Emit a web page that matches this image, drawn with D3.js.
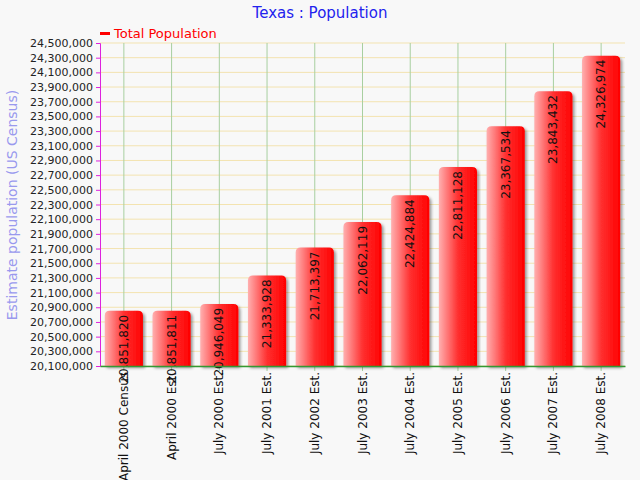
<!DOCTYPE html>
<html><head><meta charset="utf-8">
<script src="https://cdn.jsdelivr.net/npm/d3@7"></script>
<style>body{margin:0;background:#f8f8f8}text{font-family:Verdana,"DejaVu Sans",sans-serif}</style>
</head><body><svg id="c" width="640" height="480"></svg>
<script>
var categories = ["April 2000 Census","April 2000 Est.","July 2000 Est.","July 2001 Est.","July 2002 Est.","July 2003 Est.","July 2004 Est.","July 2005 Est.","July 2006 Est.","July 2007 Est.","July 2008 Est."];
var population = [20851820,20851811,20946049,21333928,21713397,22062119,22424884,22811128,23367534,23843432,24326974];
var yTicks = d3.range(20100000, 24500001, 200000);

var svg = d3.select('#c');
var m = {l:100, r:625, t:43, b:366};
var x = d3.scaleBand().domain(categories).range([m.l, m.r]).paddingInner(0.2).paddingOuter(0.1);
var y = d3.scaleLinear().domain([20100000, 24500000]).range([m.b, m.t]);

var defs = svg.append('defs');
var g = defs.append('linearGradient').attr('id','bg');
g.append('stop').attr('offset','0%').attr('stop-color','#ffb0b0');
g.append('stop').attr('offset','50%').attr('stop-color','#ff3030');
g.append('stop').attr('offset','100%').attr('stop-color','#ff0000');
defs.append('filter').attr('id','sh').append('feDropShadow').attr('dx',2).attr('dy',2).attr('stdDeviation',1.5).attr('flood-opacity',0.4);

svg.append('text').attr('x',320).attr('y',18).attr('text-anchor','middle').attr('fill','#2222ee').attr('font-size',15).text('Texas : Population');
svg.append('rect').attr('x',100).attr('y',32).attr('width',10).attr('height',3).attr('fill','red');
svg.append('text').attr('x',114).attr('y',38).attr('fill','red').attr('font-size',13).text('Total Population');

svg.selectAll('.hg').data(yTicks).enter().append('line')
  .attr('x1',m.l).attr('x2',m.r).attr('y1',d=>y(d)).attr('y2',d=>y(d)).attr('stroke','#f3e3b0');
svg.selectAll('.vg').data(categories).enter().append('line')
  .attr('x1',d=>x(d)+x.bandwidth()/2).attr('x2',d=>x(d)+x.bandwidth()/2).attr('y1',m.t).attr('y2',m.b+5).attr('stroke','#a8cfa0');

svg.selectAll('.bar').data(population).enter().append('path')
  .attr('fill','url(#bg)').attr('filter','url(#sh)')
  .attr('d',function(d,i){
    var x0=x(categories[i]), w=x.bandwidth(), t=y(d), b=m.b, r=5;
    return 'M'+x0+','+b+'V'+(t+r)+'Q'+x0+','+t+' '+(x0+r)+','+t+'H'+(x0+w-r)+'Q'+(x0+w)+','+t+' '+(x0+w)+','+(t+r)+'V'+b+'Z';
  });

svg.selectAll('.lbl').data(population).enter().append('text')
  .attr('transform',(d,i)=>'translate('+(x(categories[i])+x.bandwidth()/2+4)+','+(y(d)+4)+') rotate(-90)')
  .attr('text-anchor','end').attr('font-family','Arial,"Liberation Sans",sans-serif').attr('font-size',12).attr('fill','#111')
  .text(d3.format(','));

var ya = svg.append('g').attr('transform','translate('+m.l+',0)').call(d3.axisLeft(y).tickValues(yTicks).tickFormat(d3.format(',')).tickSize(4));
ya.select('.domain').attr('stroke','#dd22dd');
ya.selectAll('line').attr('stroke','#dd22dd');
ya.selectAll('text').attr('font-size',11).attr('fill','#222').attr('font-family','Verdana,"DejaVu Sans",sans-serif');

var xa = svg.append('g').attr('transform','translate(0,'+m.b+')').call(d3.axisBottom(x).tickSize(0).tickSizeOuter(0));
xa.select('.domain').attr('stroke','#339933').attr('stroke-width',1.5);
xa.selectAll('text').attr('transform','rotate(-90)').attr('text-anchor','end').attr('dx','-6px').attr('dy','4px')
  .attr('x',0).attr('y',0).attr('font-size',12).attr('fill','#111').attr('font-family','Arial,"Liberation Sans",sans-serif');

svg.append('text').attr('transform','translate(17,205) rotate(-90)').attr('text-anchor','middle').attr('fill','#9999ee').attr('font-size',14).text('Estimate population (US Census)');
</script></body></html>
